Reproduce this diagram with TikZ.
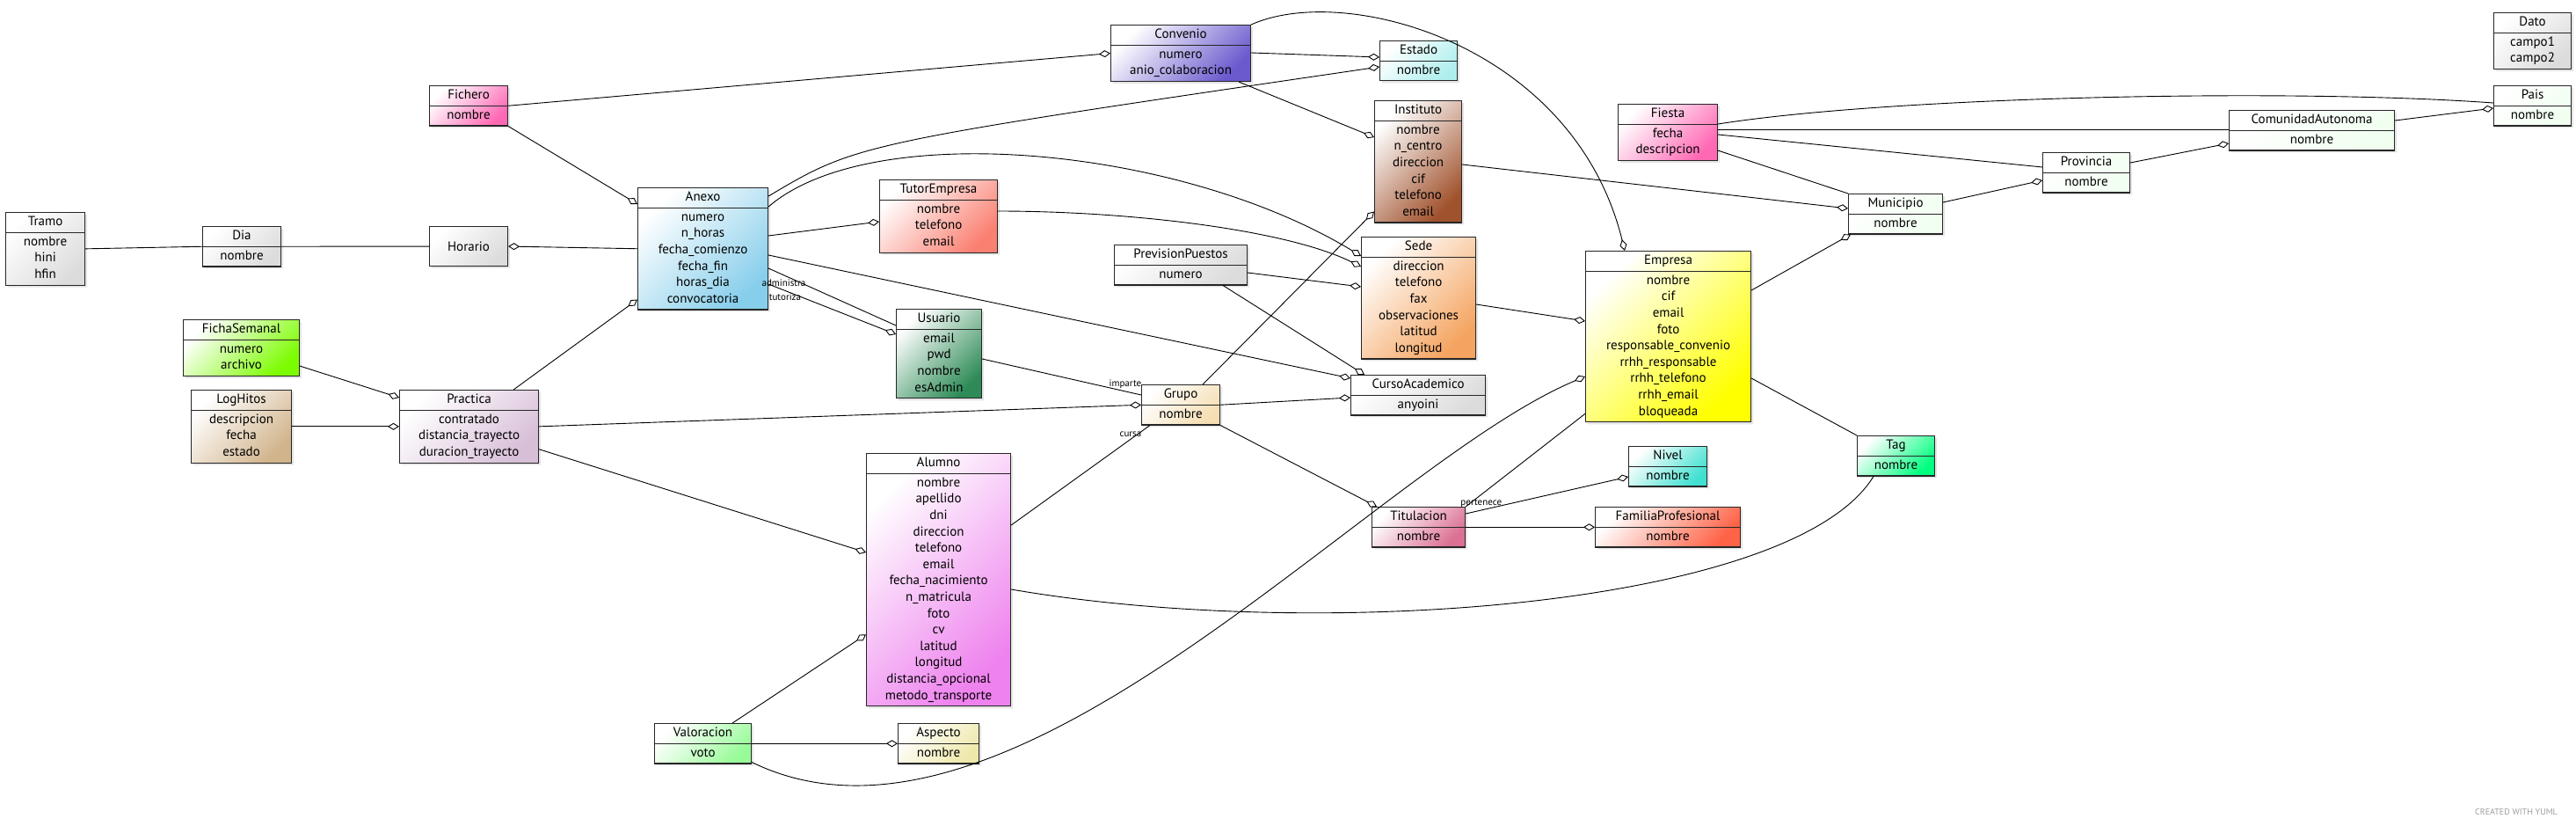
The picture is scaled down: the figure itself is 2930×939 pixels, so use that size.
\documentclass[tikz,border=0pt]{standalone}
\usepackage{fontspec}
\setmainfont{PT Sans}
\usetikzlibrary{shapes.multipart,arrows.meta,shadows}
\definecolor{gainsb}{HTML}{DCDCDC}
\definecolor{hotpk}{HTML}{FF69B4}
\definecolor{skyb}{HTML}{87CEEB}
\definecolor{lawng}{HTML}{7CFC00}
\definecolor{tanc}{HTML}{D2B48C}
\definecolor{thist}{HTML}{D8BFD8}
\definecolor{slateb}{HTML}{6A5ACD}
\definecolor{paletq}{HTML}{AFEEEE}
\definecolor{sienn}{HTML}{A0522D}
\definecolor{salm}{HTML}{FA8072}
\definecolor{sandyb}{HTML}{F4A460}
\definecolor{seag}{HTML}{2E8B57}
\definecolor{wheatc}{HTML}{F5DEB3}
\definecolor{yell}{HTML}{FFFF00}
\definecolor{honeyd}{HTML}{F0FFF0}
\definecolor{springg}{HTML}{00FF7F}
\definecolor{turq}{HTML}{40E0D0}
\definecolor{palevr}{HTML}{DB7093}
\definecolor{tomat}{HTML}{FF6347}
\definecolor{violc}{HTML}{EE82EE}
\definecolor{paleg}{HTML}{98FB98}
\definecolor{palegold}{HTML}{EEE8AA}
\newcommand{\clsfont}{\fontsize{15}{18.6}\selectfont}
\tikzstyle{rel} = [line width=0.9pt]
\tikzstyle{agg} = [rel,-{Diamond[fill=white,length=13pt,width=8pt]}]
\tikzstyle{lbl} = [font=\fontsize{11}{12}\selectfont, inner sep=0pt]
\tikzset{cls/.style={rectangle split, rectangle split parts=2, draw=black!85, line width=1.1pt,
    top color=white, bottom color=#1, shading angle=45, align=center, inner xsep=3pt,
    inner ysep=1.5pt, anchor=north west, font=\clsfont,
    drop shadow={shadow xshift=2.5pt, shadow yshift=-2.5pt, opacity=0.2}}}

\begin{document}
\begin{tikzpicture}[x=1pt, y=-1pt]
	\path[use as bounding box, fill=white] (0,0) rectangle (2930,939);
	% clases
	\node[cls=gainsb, minimum width=90] (tramo) at (6,241) {\strut Tramo\nodepart{two}\strut nombre\\hini\\hfin\strut};
	\node[cls=gainsb, minimum width=89] (dia) at (230,257) {\strut Dia\nodepart{two}\strut nombre};
	\node[draw=black!85, line width=1.1pt, top color=white, bottom color=gainsb, shading angle=45, anchor=north west,
	      font=\clsfont, minimum width=89, minimum height=45,
	      drop shadow={shadow xshift=2.5pt, shadow yshift=-2.5pt, opacity=0.2}] (horario) at (488,257) {Horario};
	\node[cls=hotpk, minimum width=89] (fichero) at (488,97) {\strut Fichero\nodepart{two}\strut nombre};
	\node[cls=skyb, minimum width=148] (anexo) at (725,213) {\strut Anexo\nodepart{two}\strut numero\\n\_horas\\fecha\_comienzo\\fecha\_fin\\horas\_dia\\convocatoria\strut};
	\node[cls=lawng, minimum width=132] (fichasemanal) at (208,363) {\strut FichaSemanal\nodepart{two}\strut numero\\archivo\strut};
	\node[cls=tanc, minimum width=114] (loghitos) at (217,443) {\strut LogHitos\nodepart{two}\strut descripcion\\fecha\\estado\strut};
	\node[cls=thist, minimum width=158] (practica) at (454,443) {\strut Practica\nodepart{two}\strut contratado\\distancia\_trayecto\\duracion\_trayecto\strut};
	\node[cls=slateb, minimum width=159] (convenio) at (1263,28) {\strut Convenio\nodepart{two}\strut numero\\anio\_colaboracion\strut};
	\node[cls=paletq, minimum width=88] (estado) at (1569,46) {\strut Estado\nodepart{two}\strut nombre};
	\node[cls=sienn, minimum width=99] (instituto) at (1563,114) {\strut Instituto\nodepart{two}\strut nombre\\n\_centro\\direccion\\cif\\telefono\\email\strut};
	\node[cls=salm, minimum width=134] (tutorempresa) at (1000,204) {\strut TutorEmpresa\nodepart{two}\strut nombre\\telefono\\email\strut};
	\node[cls=gainsb, minimum width=151] (previsionpuestos) at (1267,278) {\strut PrevisionPuestos\nodepart{two}\strut numero};
	\node[cls=sandyb, minimum width=130] (sede) at (1548,269) {\strut Sede\nodepart{two}\strut direccion\\telefono\\fax\\observaciones\\latitud\\longitud\strut};
	\node[cls=seag, minimum width=97] (usuario) at (1019,351) {\strut Usuario\nodepart{two}\strut email\\pwd\\nombre\\esAdmin\strut};
	\node[cls=gainsb, minimum width=153] (cursoacademico) at (1536,426) {\strut CursoAcademico\nodepart{two}\strut anyoini};
	\node[cls=wheatc, minimum width=89] (grupo) at (1298,437) {\strut Grupo\nodepart{two}\strut nombre};
	\node[cls=yell, minimum width=188] (empresa) at (1803,285) {\strut Empresa\nodepart{two}\strut nombre\\cif\\email\\foto\\responsable\_convenio\\rrhh\_responsable\\rrhh\_telefono\\rrhh\_email\\bloqueada\strut};
	\node[cls=hotpk, minimum width=113] (fiesta) at (1840,118) {\strut Fiesta\nodepart{two}\strut fecha\\descripcion\strut};
	\node[cls=honeyd, minimum width=107] (municipio) at (2102,220) {\strut Municipio\nodepart{two}\strut nombre};
	\node[cls=honeyd, minimum width=99] (provincia) at (2323,173) {\strut Provincia\nodepart{two}\strut nombre};
	\node[cls=honeyd, minimum width=188] (comunidad) at (2535,125) {\strut ComunidadAutonoma\nodepart{two}\strut nombre};
	\node[cls=honeyd, minimum width=88] (pais) at (2836,97) {\strut Pais\nodepart{two}\strut nombre};
	\node[cls=gainsb, minimum width=88] (dato) at (2836,14) {\strut Dato\nodepart{two}\strut campo1\\campo2\strut};
	\node[cls=springg, minimum width=88] (tag) at (2112,495) {\strut Tag\nodepart{two}\strut nombre};
	\node[cls=turq, minimum width=89] (nivel) at (1852,507) {\strut Nivel\nodepart{two}\strut nombre};
	\node[cls=palevr, minimum width=106] (titulacion) at (1560,576) {\strut Titulacion\nodepart{two}\strut nombre};
	\node[cls=tomat, minimum width=165] (familia) at (1814,576) {\strut FamiliaProfesional\nodepart{two}\strut nombre};
	\node[cls=violc, minimum width=164] (alumno) at (985,515) {\strut Alumno\nodepart{two}\strut nombre\\apellido\\dni\\direccion\\telefono\\email\\fecha\_nacimiento\\n\_matricula\\foto\\cv\\latitud\\longitud\\distancia\_opcional\\metodo\_transporte\strut};
	\node[cls=paleg, minimum width=110] (valoracion) at (744,822) {\strut Valoracion\nodepart{two}\strut voto};
	\node[cls=palegold, minimum width=92] (aspecto) at (1021,822) {\strut Aspecto\nodepart{two}\strut nombre};
	\node[font=\fontsize{10}{12}\selectfont, text=gray!75] (credito) at (2862,923) {CREATED WITH YUML};
	% relaciones
	\draw[rel] (tramo.east) -- (dia.west);
	\draw[rel] (dia.east) -- (horario.west);
	\draw[agg] (anexo.west) -- (horario.east);
	\draw[agg] (fichero.south east) -- ([shift={(0,19)}]anexo.north west);
	\draw[agg] (fichero.east) -- (convenio.west);
	\draw[agg] ([shift={(0,-12)}]fichasemanal.south east) -- ([shift={(0,9)}]practica.north west);
	\draw[agg] (loghitos.east) -- (practica.west);
	\draw[agg] ([shift={(-29,0)}]practica.north east) -- ([shift={(0,-12)}]anexo.south west);
	\draw[agg] (practica.east) -- (grupo.west);
	\draw[agg] ([shift={(0,-16)}]practica.south east) -- ([shift={(0,113)}]alumno.north west);
	\draw[agg] ([shift={(-22,0)}]valoracion.north east) -- ([shift={(0,-82)}]alumno.south west);
	\draw[agg] (valoracion.east) -- (aspecto.west);
	\draw[agg] ([shift={(0,-2)}]valoracion.south east) .. controls (1150,1010) and (1560,530) .. ([shift={(0,143)}]empresa.north west);
	\draw[rel] ([shift={(0,82)}]alumno.north east) -- node[lbl, pos=0.86, yshift=6] {cursa} ([shift={(10,0)}]grupo.south west);
	\draw[rel] ([shift={(0,57)}]usuario.north east) -- node[lbl, pos=0.9, yshift=8] {imparte} ([shift={(0,12)}]grupo.north west);
	\draw[agg] ([shift={(-20,0)}]grupo.north east) -- ([shift={(0,-13)}]instituto.south west);
	\draw[agg] (grupo.east) -- ([shift={(0,26)}]cursoacademico.north west);
	\draw[agg] (grupo.south east) -- ([shift={(6,0)}]titulacion.north west);
	\draw[agg] ([shift={(0,10)}]anexo.north east) .. controls (975,163) .. ([shift={(0,30)}]estado.north west);
	\draw[agg] ([shift={(0,32)}]convenio.north east) -- ([shift={(0,19)}]estado.north west);
	\draw[agg] ([shift={(-14,0)}]convenio.south east) -- ([shift={(0,42)}]instituto.north west);
	\draw[agg] (convenio.north east) .. controls (1530,-20) and (1790,50) .. ([shift={(45,0)}]empresa.north west);
	\draw[agg] ([shift={(0,22)}]anexo.north east) .. controls (990,135) and (1340,165) .. ([shift={(0,22)}]sede.north west);
	\draw[agg] ([shift={(0,36)}]tutorempresa.north east) .. controls (1280,240) and (1460,260) .. ([shift={(0,34)}]sede.north west);
	\draw[agg] ([shift={(0,55)}]anexo.north east) -- ([shift={(0,48)}]tutorempresa.north west);
	\draw[agg] ([shift={(0,77)}]anexo.north east) -- ([shift={(0,4)}]cursoacademico.north west);
	\draw[rel] ([shift={(0,92)}]anexo.north east) -- node[lbl, pos=0.12, yshift=-9] {administra} ([shift={(0,19)}]usuario.north west);
	\draw[agg] ([shift={(0,110)}]anexo.north east) -- node[lbl, pos=0.13, yshift=-7] {tutoriza} ([shift={(0,29)}]usuario.north west);
	\draw[agg] ([shift={(0,32)}]previsionpuestos.north east) -- ([shift={(0,57)}]sede.north west);
	\draw[agg] ([shift={(-28,0)}]previsionpuestos.south east) -- ([shift={(16,0)}]cursoacademico.north west);
	\draw[agg] ([shift={(0,77)}]sede.north east) -- ([shift={(0,80)}]empresa.north west);
	\draw[agg] ([shift={(0,73)}]instituto.north east) -- ([shift={(0,17)}]municipio.north west);
	\draw[agg] ([shift={(0,45)}]empresa.north east) -- ([shift={(3,0)}]municipio.south west);
	\draw[rel] ([shift={(0,23)}]fiesta.north east) .. controls (2150,110) and (2600,100) .. ([shift={(0,20)}]pais.north west);
	\draw[rel] ([shift={(0,29)}]fiesta.north east) -- ([shift={(0,22)}]comunidad.north west);
	\draw[rel] ([shift={(0,35)}]fiesta.north east) -- ([shift={(0,17)}]provincia.north west);
	\draw[rel] ([shift={(0,-12)}]fiesta.south east) -- (municipio.north west);
	\draw[agg] ([shift={(0,12)}]comunidad.north east) -- ([shift={(0,26)}]pais.north west);
	\draw[agg] ([shift={(0,12)}]provincia.north east) -- ([shift={(0,38)}]comunidad.north west);
	\draw[agg] ([shift={(0,10)}]municipio.north east) -- ([shift={(0,32)}]provincia.north west);
	\draw[rel] ([shift={(0,145)}]empresa.north east) -- (tag.north west);
	\draw[rel] ([shift={(19,0)}]tag.south west) .. controls (2040,690) and (1500,730) .. ([shift={(0,155)}]alumno.north east);
	\draw[rel] ([shift={(0,-10)}]empresa.south west) -- node[lbl, pos=0.87, yshift=-10] {pertenece} (titulacion.north east);
	\draw[agg] ([shift={(0,8)}]titulacion.north east) -- ([shift={(0,35)}]nivel.north west);
	\draw[agg] (titulacion.east) -- (familia.west);
\end{tikzpicture}
\end{document}
